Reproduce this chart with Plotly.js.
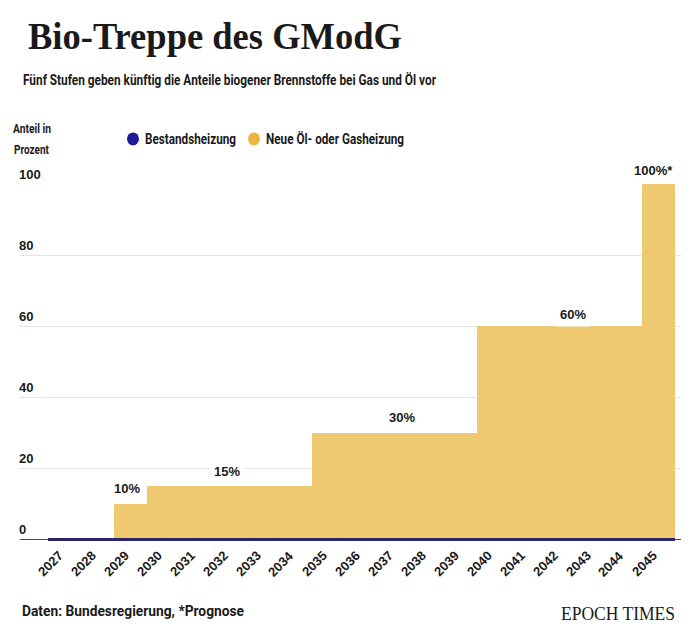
<!DOCTYPE html>
<html>
<head>
<meta charset="utf-8">
<script src="https://cdn.plot.ly/plotly-3.0.1.min.js"></script>
<style>html,body{margin:0;padding:0;background:#fff;}#chart{width:697px;height:642px;}</style>
</head>
<body>
<div id="chart"></div>
<script>
// ---- data ----
const years = [2027, 2028, 2029, 2030, 2031, 2032, 2033, 2034, 2035, 2036, 2037, 2038, 2039, 2040, 2041, 2042, 2043, 2044, 2045];
const neueOelGasheizung = [0, 0, 10, 15, 15, 15, 15, 15, 30, 30, 30, 30, 30, 60, 60, 60, 60, 60, 100];
const bestandsheizung = [0, 0, 0, 0, 0, 0, 0, 0, 0, 0, 0, 0, 0, 0, 0, 0, 0, 0, 0];
const yTicks = [0, 20, 40, 60, 80, 100];
const stepYears = [2029, 2032, 2037, 2042, 2045];
const stepLabels = ['10%', '15%', '30%', '60%', '100%*'];
const seriesNames = ['Bestandsheizung', 'Neue Öl- oder Gasheizung'];

// ---- style ----
const YELLOW = '#EFC96F';
const YELLOW_LEGEND = '#EBB540';
const BLUE_LEGEND = '#1D1A9B';
const BLUE_LINE = '#2B2569';
const TXT = '#1a1a1a';
const COND = 'Roboto, "Liberation Sans", sans-serif';
const SANS = '"Liberation Sans", Arial, sans-serif';
const SERIF = '"Liberation Serif", "DejaVu Serif", serif';

const W = 697, H = 642;
const L = 20, R = 681, T = 184, ZERO = 539;
const Y_MIN = -1, Y_MAX = 100;
const pxPerUnit = (ZERO - T) / Y_MAX;
const Bp = ZERO - Y_MIN * pxPerUnit;          // bottom of plot area in pixels
const px = x => (x - L) / (R - L);
const py = y => (Bp - y) / (Bp - T);

const catW = 33;
const xMin = years[0] - 0.5 - (48 - L) / catW;
const xMax = years[years.length - 1] + 0.5 + (R - 675) / catW;

const traces = [
  {
    type: 'bar', name: seriesNames[1], x: years, y: neueOelGasheizung,
    width: 1, marker: {color: YELLOW, line: {width: 0}},
    showlegend: false, hoverinfo: 'x+y'
  },
  {
    type: 'scatter', mode: 'markers', name: seriesNames[0], x: years, y: bestandsheizung,
    marker: {size: 1, color: 'rgba(0,0,0,0)'},
    error_x: {type: 'constant', value: 0.5, thickness: 3, width: 0, color: BLUE_LINE},
    cliponaxis: false, showlegend: false
  }
];

const annotations = [];
const fitWidths = {};   // annotation index -> target text width (px)
function txt(text, x, y, size, family, fit, weight) {
  fitWidths[annotations.length] = fit;
  annotations.push({
    xref: 'paper', yref: 'paper', x: px(x), y: py(y), text: text,
    xanchor: 'left', yanchor: 'middle', align: 'left', showarrow: false,
    font: {size: size, family: family, color: TXT, weight: weight || 700}
  });
}
txt('Bio-Treppe des GModG', 26, 36, 38, SERIF, 374);
txt('Fünf Stufen geben künftig die Anteile biogener Brennstoffe bei Gas und Öl vor', 21, 80, 15, COND, 413);
txt('Anteil in', 11, 128, 13.5, COND, 38);
txt('Prozent', 12, 149, 13.5, COND, 35);
txt(seriesNames[0], 143, 139, 15, COND, 91);
txt(seriesNames[1], 264, 139, 15, COND, 138);
txt('Daten: Bundesregierung, *Prognose', 20, 610, 15, COND, 222);
txt('EPOCH TIMES', 559, 613, 19, SERIF, 114, 400);

// y tick labels, left aligned above gridlines
yTicks.forEach(v => annotations.push({
  xref: 'paper', yref: 'y', x: 0, y: v, text: String(v), xanchor: 'left', yanchor: 'bottom',
  xshift: -3, yshift: 0, showarrow: false, font: {size: 13, family: SANS, color: TXT, weight: 700}
}));

// x tick labels, rotated
years.forEach(yr => annotations.push({
  xref: 'x', yref: 'y', x: yr, y: 0, text: String(yr), textangle: -45,
  xanchor: 'right', yanchor: 'top', xshift: 3, yshift: -7, borderpad: 0, showarrow: false,
  font: {size: 13, family: SANS, color: TXT, weight: 700}
}));

// step labels
const shiftX = {2029: -4, 2032: -3, 2037: 7, 2042: 13, 2045: -5};
const shiftY = {2029: 15, 2032: 15, 2037: 15, 2042: 12, 2045: 14};
stepYears.forEach((yr, i) => {
  const v = neueOelGasheizung[years.indexOf(yr)];
  annotations.push({
    xref: 'x', yref: 'y', x: yr, y: v, text: stepLabels[i], showarrow: false,
    xanchor: 'center', yanchor: 'middle', xshift: shiftX[yr], yshift: shiftY[yr],
    bgcolor: '#ffffff', borderpad: 4,
    font: {size: 13, family: SANS, color: TXT, weight: 700}
  });
});

const shapes = [
  {type: 'circle', xref: 'paper', yref: 'paper', xsizemode: 'pixel', ysizemode: 'pixel',
   xanchor: px(133), yanchor: py(139), x0: -6, x1: 6, y0: -6.5, y1: 6.5,
   fillcolor: BLUE_LEGEND, line: {width: 0}},
  {type: 'circle', xref: 'paper', yref: 'paper', xsizemode: 'pixel', ysizemode: 'pixel',
   xanchor: px(254), yanchor: py(139), x0: -6, x1: 6, y0: -6.5, y1: 6.5,
   fillcolor: YELLOW_LEGEND, line: {width: 0}}
];

const layout = {
  width: W, height: H,
  margin: {l: L, r: W - R, t: T, b: H - Bp, pad: 0},
  paper_bgcolor: '#ffffff', plot_bgcolor: '#ffffff',
  showlegend: false, bargap: 0, barmode: 'overlay',
  xaxis: {
    type: 'linear', range: [xMin, xMax], showticklabels: false, ticks: '',
    showgrid: false, zeroline: false, showline: false, fixedrange: true
  },
  yaxis: {
    range: [Y_MIN, Y_MAX], tickvals: yTicks, showticklabels: false, ticks: '',
    showgrid: true, gridcolor: '#e3e3e3', gridwidth: 1,
    zeroline: true, zerolinecolor: '#444444', zerolinewidth: 1, showline: false, fixedrange: true
  },
  annotations: annotations, shapes: shapes,
  font: {family: COND, color: TXT}
};

Plotly.newPlot('chart', traces, layout, {displayModeBar: false, staticPlot: true}).then(gd => {
  // condense the headline / label typefaces to the reference widths (text stays real text)
  gd.querySelectorAll('g.annotation').forEach(g => {
    const idx = +g.getAttribute('data-index');
    const target = fitWidths[idx];
    if (!target) return;
    const t = g.querySelector('text.annotation-text');
    if (!t) return;
    t.setAttribute('textLength', target);
    t.setAttribute('lengthAdjust', 'spacingAndGlyphs');
  });
});
</script>
</body>
</html>
